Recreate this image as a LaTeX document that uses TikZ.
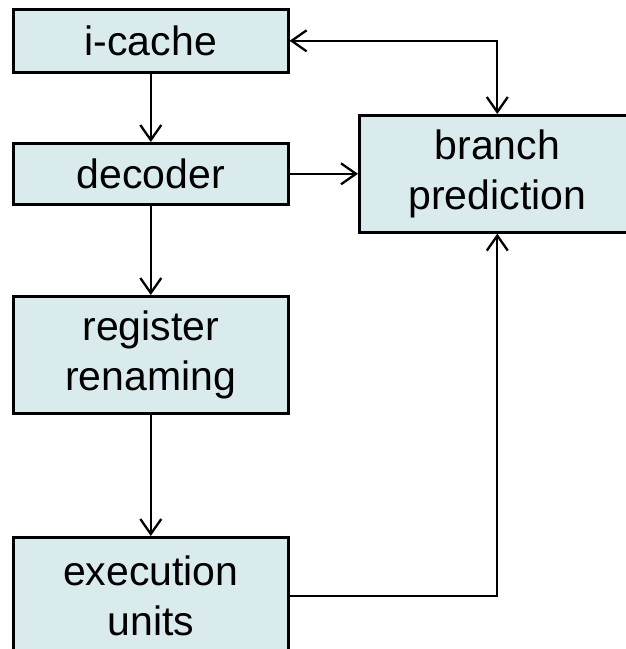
\documentclass[tikz,border=0pt]{standalone}
\usepackage{fontspec}
\setsansfont{Liberation Sans}
\usetikzlibrary{positioning,arrows.meta}
\definecolor{cpuLine}{HTML}{000000}
\definecolor{cpuBoxBg}{HTML}{DAEBEE}
\tikzset{
  stage/.style={
    draw=cpuLine, line width=2.6pt, fill=cpuBoxBg, inner sep=0pt,
    minimum width=275pt, minimum height=#1, align=center,
    font=\sffamily\fontsize{41}{50}\selectfont},
  stage/.default=62pt,
  link/.style={draw=cpuLine, line width=2.3pt,
               -{Straight Barb[length=15pt,width=21pt]}},
  twolink/.style={draw=cpuLine, line width=2.3pt,
               {Straight Barb[length=15pt,width=21pt]}-{Straight Barb[length=15pt,width=21pt]}},
}

\begin{document}
\begin{tikzpicture}[x=1pt,y=1pt]
\useasboundingbox (0,0) rectangle (626,-649);

\node[stage=63pt, anchor=north west] (ICache) at (12,-8) {i-cache};
\node[stage=61pt, anchor=north west] (Decoder) at (12,-142) {decoder};
\node[stage=117pt, anchor=north west] (Rename) at (12,-295) {register\\renaming};
\node[stage=118pt, anchor=north west] (Exec) at (12,-536) {execution\\units};
\node[stage=117pt, minimum width=276pt, anchor=north west] (Branch) at (358,-114)
  {branch\\prediction};

% pipeline
\draw[link] (ICache) -- (Decoder);
\draw[link] (Decoder) -- (Rename);
\draw[link] (Rename) -- (Exec);

% branch predictor
\draw[link] (Decoder) -- (Branch.west |- Decoder.east);
\draw[link] (Exec.east) -| (Branch.south);
\draw[twolink] (ICache.east) -| (Branch.north);

\end{tikzpicture}
\end{document}
